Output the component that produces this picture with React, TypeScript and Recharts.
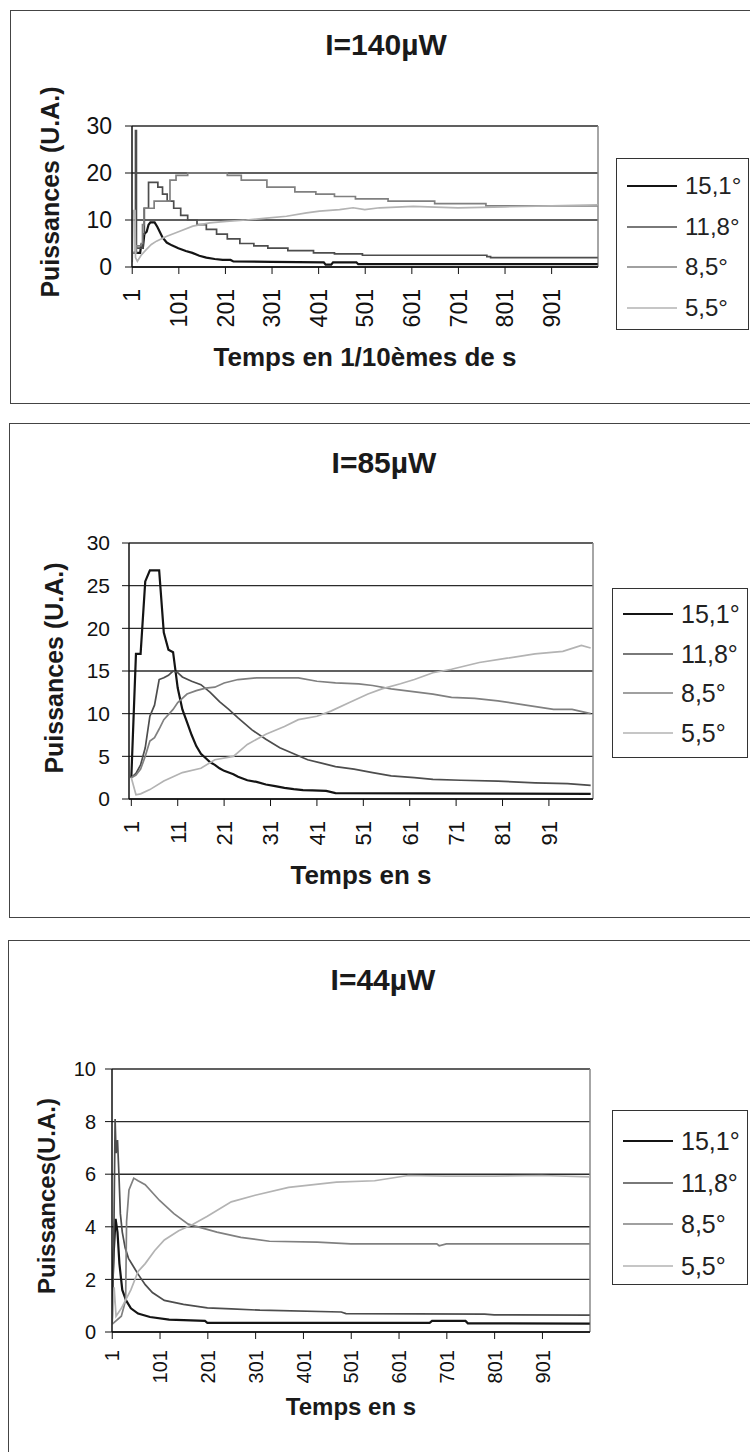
import React from 'react'
import { LineChart, Line, XAxis, YAxis, CartesianGrid, Legend, ReferenceLine } from 'recharts'

type Pt = [number, number]

const SERIES_NAMES = ['15,1°', '11,8°', '8,5°', '5,5°']
const SERIES_COLORS = ['#141414', '#4d4d4d', '#808080', '#b3b3b3']
const SERIES_WIDTHS = [2.2, 1.7, 1.7, 1.7]

// I=140µW, time in 1/10 s
const p1Ticks = [1, 101, 201, 301, 401, 501, 601, 701, 801, 901]
const p1Levels = [0, 10, 20, 30]
const p1Deg151: Pt[] = [[1, 3], [18, 3], [20, 4.5], [24, 4.2], [27, 7], [32, 7.5], [36, 9], [40, 9.5], [49, 9.5], [55, 8.5], [60, 7.5], [66, 6.3], [75, 5.2], [86, 4.6], [100, 4], [116, 3.4], [130, 3], [145, 2.4], [160, 2], [178, 1.7], [195, 1.5], [212, 1.5], [218, 1.2], [300, 1.1], [412, 1.0], [416, 0.5], [428, 0.5], [432, 1.0], [482, 1.0], [486, 0.6], [1000, 0.6]]
const p1Deg118: Pt[] = [[1, 3], [6, 3], [8, 29], [10, 4], [20, 4], [24, 7], [27, 12.5], [34, 12.5], [36, 18], [50, 18], [56, 17], [66, 15.5], [76, 14], [90, 12.5], [105, 11], [120, 10], [140, 9], [160, 8], [182, 7], [205, 6], [232, 5], [262, 4.5], [292, 4], [335, 3.5], [390, 3], [435, 2.8], [495, 2.5], [755, 2.5], [762, 2.2], [770, 2.0], [1000, 2.0]]
const p1Deg85: Pt[] = [[1, 3], [10, 4.5], [20, 5], [23, 9], [26, 12.5], [46, 12.5], [48, 14], [81, 14], [82, 18.5], [95, 19.5], [120, 20], [195, 20], [205, 19.5], [235, 18.5], [290, 17], [350, 16], [395, 15.5], [435, 15], [480, 14.5], [550, 14], [600, 14], [650, 13.5], [760, 13], [1000, 13]]
const p1Deg55: Pt[] = [[1, 1], [3, 12], [7, 12], [8, 2], [12, 1.2], [20, 2.5], [31, 3.7], [42, 4.8], [53, 5.5], [74, 6.5], [103, 7.6], [131, 8.7], [167, 9.4], [203, 9.7], [246, 10], [289, 10.4], [332, 10.8], [375, 11.5], [403, 11.9], [446, 12.2], [475, 12.6], [500, 12.2], [532, 12.6], [604, 12.9], [700, 12.6], [800, 12.8], [900, 13], [1000, 13.2]]

// I=85µW, time in s
const p2Ticks = [1, 11, 21, 31, 41, 51, 61, 71, 81, 91]
const p2Levels = [0, 5, 10, 15, 20, 25, 30]
const p2Deg151: Pt[] = [[1, 2.5], [2, 17], [3, 17], [4, 25.5], [5, 26.8], [7, 26.8], [8, 19.5], [9, 17.5], [10, 17.2], [11, 13], [12, 10.5], [13, 9], [14, 7.5], [15, 6.2], [16, 5.3], [17, 4.8], [18, 4.3], [19, 4], [20, 3.6], [21, 3.3], [22, 3.1], [23, 2.9], [24, 2.6], [25, 2.4], [26, 2.2], [28, 2], [30, 1.7], [32, 1.5], [34, 1.3], [36, 1.15], [38, 1.05], [40, 1], [43, 0.95], [45, 0.7], [100, 0.6]]
const p2Deg118: Pt[] = [[1, 2.5], [2, 3], [3, 4], [4, 6], [5, 9.7], [6, 11], [7, 14], [8, 14.2], [9, 14.5], [10, 15], [11, 14.8], [12, 14.3], [14, 13.8], [16, 13.4], [18, 12.5], [20, 11.4], [22, 10.5], [24, 9.5], [27, 8.1], [30, 7], [33, 6], [36, 5.3], [39, 4.6], [42, 4.2], [45, 3.8], [49, 3.5], [53, 3.1], [57, 2.7], [62, 2.5], [66, 2.3], [72, 2.2], [80, 2.1], [88, 1.9], [95, 1.8], [100, 1.6]]
const p2Deg85: Pt[] = [[1, 2.5], [2, 2.8], [3, 3.5], [4, 5], [5, 6.8], [6, 7.2], [7, 8.2], [8, 9.3], [10, 10.5], [11, 11.3], [13, 12.3], [15, 12.7], [17, 13], [19, 13.1], [21, 13.6], [24, 14], [28, 14.2], [37, 14.2], [41, 13.8], [45, 13.6], [50, 13.5], [53, 13.3], [57, 12.9], [60, 12.7], [63, 12.5], [66, 12.3], [70, 11.9], [75, 11.8], [80, 11.5], [86, 11], [92, 10.5], [96, 10.5], [100, 10]]
const p2Deg55: Pt[] = [[1, 2.5], [2, 0.5], [3, 0.6], [5, 1.1], [8, 2.1], [12, 3.1], [16, 3.6], [19, 4.6], [23, 5], [26, 6.4], [30, 7.6], [34, 8.5], [37, 9.3], [41, 9.7], [44, 10.3], [48, 11.3], [52, 12.3], [55, 12.9], [59, 13.5], [62, 14], [66, 14.8], [70, 15.2], [76, 16], [82, 16.5], [88, 17], [94, 17.3], [98, 18], [100, 17.7]]

// I=44µW
const p3Ticks = [1, 101, 201, 301, 401, 501, 601, 701, 801, 901]
const p3Levels = [0, 2, 4, 6, 8, 10]
const p3Deg151: Pt[] = [[1, 1.5], [4, 3], [8, 4.3], [12, 3.8], [16, 2.6], [22, 1.6], [30, 1.2], [40, 0.9], [55, 0.7], [80, 0.57], [120, 0.47], [195, 0.42], [200, 0.35], [665, 0.35], [670, 0.42], [740, 0.42], [745, 0.33], [1000, 0.32]]
const p3Deg118: Pt[] = [[1, 0.5], [4, 3], [7, 8.1], [9, 6.8], [12, 7.3], [15, 6], [18, 4.5], [22, 3.8], [28, 3.2], [35, 2.8], [45, 2.5], [55, 2.2], [70, 1.8], [85, 1.5], [110, 1.2], [150, 1.05], [200, 0.92], [250, 0.88], [310, 0.83], [480, 0.76], [490, 0.7], [780, 0.68], [800, 0.65], [1000, 0.64]]
const p3Deg85: Pt[] = [[1, 0.3], [20, 0.6], [29, 1.2], [31, 4.2], [36, 5.4], [46, 5.85], [55, 5.75], [70, 5.6], [100, 5.0], [130, 4.5], [160, 4.1], [220, 3.8], [270, 3.6], [330, 3.45], [430, 3.42], [500, 3.35], [680, 3.35], [685, 3.28], [700, 3.35], [1000, 3.35]]
const p3Deg55: Pt[] = [[1, 0.3], [5, 1.7], [9, 0.6], [20, 0.9], [40, 1.6], [55, 2.3], [70, 2.6], [90, 3.1], [110, 3.5], [140, 3.85], [170, 4.1], [200, 4.4], [250, 4.95], [300, 5.2], [370, 5.5], [470, 5.7], [550, 5.75], [620, 5.95], [700, 5.93], [800, 5.93], [900, 5.95], [1000, 5.9]]

const FONT = '"Liberation Sans", Arial, sans-serif'
const CHART_W = 800
const Y_W = 60
const X_H = 70

interface PanelCfg {
  top: number
  height: number
  borderLeft: number
  title: string
  titleX: number
  titleY: number
  series: Pt[][]
  stepped: boolean[]
  xTicks: number[]
  xMax: number
  yTicks: number[]
  yMax: number
  plotLeft: number
  plotRight: number
  plotTop: number
  plotBottom: number
  yTickFont: number
  yTickMargin: number
  xTickFont: number
  xTickGap: number
  yTitle: string
  yTitleX: number
  yTitleY: number
  yTitleFont: number
  xTitle: string
  xTitleY: number
  xTitleFont: number
  legendLeft: number
  legendTop: number
  legendW: number
  legendH: number
  legendFirst: number
  legendStep: number
  legendFont: number
}

const panels: PanelCfg[] = [
  {
    top: 10, height: 394, borderLeft: 10, title: 'I=140µW', titleX: 386, titleY: 35,
    series: [p1Deg151, p1Deg118, p1Deg85, p1Deg55], stepped: [false, true, true, false],
    xTicks: p1Ticks, xMax: 1000, yTicks: p1Levels, yMax: 30,
    plotLeft: 132, plotRight: 598, plotTop: 116, plotBottom: 257,
    yTickFont: 23, yTickMargin: 13, xTickFont: 23, xTickGap: 22,
    yTitle: 'Puissances (U.A.)', yTitleX: 50, yTitleY: 182, yTitleFont: 25,
    xTitle: 'Temps en 1/10èmes de s', xTitleY: 347, xTitleFont: 26,
    legendLeft: 616, legendTop: 148, legendW: 133, legendH: 172, legendFirst: 27, legendStep: 40.5, legendFont: 24,
  },
  {
    top: 423, height: 495, borderLeft: 9, title: 'I=85µW', titleX: 384, titleY: 40,
    series: [p2Deg151, p2Deg118, p2Deg85, p2Deg55], stepped: [false, false, false, false],
    xTicks: p2Ticks, xMax: 100, yTicks: p2Levels, yMax: 30,
    plotLeft: 129, plotRight: 593, plotTop: 120, plotBottom: 376,
    yTickFont: 21, yTickMargin: 12, xTickFont: 22, xTickGap: 22,
    yTitle: 'Puissances (U.A.)', yTitleX: 54, yTitleY: 245, yTitleFont: 25,
    xTitle: 'Temps en s', xTitleY: 452, xTitleFont: 26,
    legendLeft: 612, legendTop: 165, legendW: 136, legendH: 170, legendFirst: 25, legendStep: 39.7, legendFont: 25,
  },
  {
    top: 940, height: 530, borderLeft: 8, title: 'I=44µW', titleX: 383, titleY: 40,
    series: [p3Deg151, p3Deg118, p3Deg85, p3Deg55], stepped: [false, false, false, false],
    xTicks: p3Ticks, xMax: 1000, yTicks: p3Levels, yMax: 10,
    plotLeft: 112, plotRight: 590, plotTop: 129, plotBottom: 392,
    yTickFont: 20, yTickMargin: 9, xTickFont: 20, xTickGap: 18,
    yTitle: 'Puissances(U.A.)', yTitleX: 46, yTitleY: 256, yTitleFont: 24,
    xTitle: 'Temps en s', xTitleY: 466, xTitleFont: 24,
    legendLeft: 612, legendTop: 170, legendW: 136, legendH: 175, legendFirst: 30, legendStep: 41.7, legendFont: 25,
  },
]

function Panel({ cfg }: { cfg: PanelCfg }) {
  const margin = {
    top: cfg.plotTop,
    left: cfg.plotLeft - Y_W,
    right: CHART_W - cfg.plotRight,
    bottom: cfg.height - cfg.plotBottom - X_H,
  }

  const xTick = (props: any) => {
    const { x, y, payload } = props
    return (
      <text x={x} y={y} transform={`rotate(-90 ${x} ${y})`} textAnchor="end" dy="0.36em" fontSize={cfg.xTickFont} fill="#111" fontFamily={FONT}>
        {payload.value}
      </text>
    )
  }

  // legend drawn in the same order as the series
  const legend = (props: any) => {
    const items = [...(props.payload || [])].sort(
      (a: any, b: any) => SERIES_NAMES.indexOf(a.value) - SERIES_NAMES.indexOf(b.value),
    )
    return (
      <div style={{ width: cfg.legendW, height: cfg.legendH, border: '1.5px solid #333', boxSizing: 'border-box', position: 'relative', background: '#fff', fontFamily: FONT }}>
        {items.map((it: any, i: number) => (
          <div key={it.value} style={{ position: 'absolute', left: 10, top: cfg.legendFirst + i * cfg.legendStep - 14, height: 28, display: 'flex', alignItems: 'center' }}>
            <svg width={50} height={6}>
              <line x1={0} y1={3} x2={50} y2={3} stroke={it.color} strokeWidth={SERIES_WIDTHS[SERIES_NAMES.indexOf(it.value)]} />
            </svg>
            <span style={{ marginLeft: 8, fontSize: cfg.legendFont, color: '#222', lineHeight: '28px' }}>{it.value}</span>
          </div>
        ))}
      </div>
    )
  }

  return (
    <>
      <div style={{ position: 'absolute', left: cfg.borderLeft, top: cfg.top, width: 800, height: cfg.height, border: '1.5px solid #444', boxSizing: 'border-box' }} />
      <div style={{ position: 'absolute', left: cfg.titleX - 150, width: 300, top: cfg.top + cfg.titleY - 15, textAlign: 'center', fontSize: 30, lineHeight: '30px', fontWeight: 'bold', color: '#1a1a1a' }}>
        {cfg.title}
      </div>
      <div style={{ position: 'absolute', left: 0, top: cfg.top }}>
        <LineChart width={CHART_W} height={cfg.height} margin={margin}>
          <CartesianGrid horizontal vertical={false} stroke="#2b2b2b" strokeWidth={1.4} />
          <XAxis
            type="number"
            dataKey="t"
            domain={[0.5, cfg.xMax + 0.5]}
            allowDataOverflow
            ticks={cfg.xTicks}
            interval={0}
            tickSize={7}
            tickMargin={cfg.xTickGap - 7}
            height={X_H}
            tick={xTick}
            axisLine={{ stroke: '#111', strokeWidth: 1.5 }}
            tickLine={{ stroke: '#111' }}
            label={{
              content: () => (
                <text x={(cfg.plotLeft + cfg.plotRight) / 2} y={cfg.xTitleY} textAnchor="middle" dy="0.36em" fontSize={cfg.xTitleFont} fontWeight="bold" fill="#1a1a1a" fontFamily={FONT}>
                  {cfg.xTitle}
                </text>
              ),
            }}
          />
          <YAxis
            type="number"
            domain={[0, cfg.yMax]}
            ticks={cfg.yTicks}
            interval={0}
            width={Y_W}
            tickSize={7}
            tickMargin={cfg.yTickMargin}
            tick={{ fontSize: cfg.yTickFont, fill: '#111', fontFamily: FONT }}
            axisLine={{ stroke: '#111', strokeWidth: 1.5 }}
            tickLine={{ stroke: '#111' }}
            label={{
              content: () => (
                <text x={cfg.yTitleX} y={cfg.yTitleY} transform={`rotate(-90 ${cfg.yTitleX} ${cfg.yTitleY})`} textAnchor="middle" dy="0.36em" fontSize={cfg.yTitleFont} fontWeight="bold" fill="#1a1a1a" fontFamily={FONT}>
                  {cfg.yTitle}
                </text>
              ),
            }}
          />
          <ReferenceLine x={cfg.xMax + 0.5} stroke="#888" strokeWidth={1.5} />
          <Legend
            layout="vertical"
            align="center"
            verticalAlign="middle"
            width={cfg.legendW}
            height={cfg.legendH}
            wrapperStyle={{ left: cfg.legendLeft, top: cfg.legendTop, width: cfg.legendW, height: cfg.legendH }}
            content={legend}
          />
          {cfg.series.map((pts, i) => (
            <Line
              key={SERIES_NAMES[i]}
              name={SERIES_NAMES[i]}
              data={pts.map(([t, v]) => ({ t, v }))}
              dataKey="v"
              type={cfg.stepped[i] ? 'stepAfter' : 'linear'}
              stroke={SERIES_COLORS[i]}
              strokeWidth={SERIES_WIDTHS[i]}
              dot={false}
              activeDot={false}
              isAnimationActive={false}
            />
          ))}
        </LineChart>
      </div>
    </>
  )
}

export default function App() {
  return (
    <div style={{ position: 'fixed', left: 0, top: 0, width: 750, height: 1452, overflow: 'hidden', background: '#fff', fontFamily: FONT, color: '#111' }}>
      {panels.map((p) => (
        <Panel key={p.title} cfg={p} />
      ))}
    </div>
  )
}
